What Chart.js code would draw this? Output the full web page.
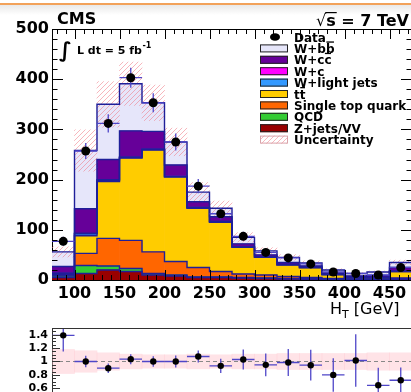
<!DOCTYPE html>
<html lang="en">
<head>
<meta charset="UTF-8">
<title>CMS W+jets H_T</title>
<script src="https://cdn.jsdelivr.net/npm/chart.js@4.4.1/dist/chart.umd.min.js"></script>
<style>
  body { margin: 0; width: 411px; height: 392px; overflow: hidden; background: #fff; position: relative; }
  .topbar { position: absolute; left: 0; top: 3px; width: 411px; height: 10px; border-top: 2px solid #f2a25a; background: linear-gradient(#e9e9e9, #fff); }
  #main { position: absolute; left: 0; top: 0; }
  #ratio { position: absolute; left: 0; top: 320px; }
</style>
</head>
<body>
<div class="topbar"></div>
<canvas id="main" width="420" height="320"></canvas>
<canvas id="ratio" width="420" height="80"></canvas>

<script>
// bins: lower edge of each 25 GeV H_T bin
const htLow = [75, 100, 125, 150, 175, 200, 225, 250, 275, 300, 325, 350, 375, 400, 425, 450];
const binWidth = 25;

const dataCounts = [77, 257, 312, 403, 353, 275, 187, 132, 87, 55, 44, 32, 16, 13, 10, 25];
const dataErr    = [9, 16, 18, 20, 19, 17, 14, 11, 9, 7, 7, 6, 4, 4, 3, 5];

// MC components, stacked bottom -> top
const zjetsVV   = [5, 13, 20, 17, 10, 8, 5, 5, 4, 3, 2, 2, 1, 1, 1, 2];
const qcd       = [3, 16, 8, 6, 3, 2, 1, 1, 1, 1, 1, 0, 0, 0, 0, 0];
const singleTop = [2, 24, 55, 56, 43, 27, 19, 11, 7, 6, 4, 3, 2, 1, 1, 2];
const ttbar     = [1, 35, 113, 164, 203, 168, 118, 98, 53, 35, 23, 20, 8, 3, 3, 13];
const wLight    = [2, 4, 2, 1, 1, 1, 1, 1, 1, 1, 1, 0, 0, 0, 0, 0];
const wC        = [1, 1, 2, 1, 1, 1, 1, 1, 0, 0, 0, 0, 0, 0, 0, 1];
const wCC       = [13, 49, 40, 52, 35, 22, 11, 9, 6, 4, 4, 3, 3, 3, 4, 7];
const wBB       = [29, 116, 110, 94, 57, 46, 19, 17, 13, 8, 10, 6, 6, 5, 7, 10];

// relative MC uncertainty per bin
const mcUncert = [0.18, 0.16, 0.13, 0.11, 0.10, 0.10, 0.11, 0.10, 0.11, 0.11, 0.12, 0.12, 0.12, 0.12, 0.13, 0.13];

// data / MC ratio
const ratioVals = [1.39, 1.0, 0.9, 1.035, 1.0, 1.0, 1.075, 0.935, 1.03, 0.95, 0.985, 0.945, 0.80, 1.015, 0.645, 0.72];
const ratioErr  = [0.24, 0.085, 0.07, 0.075, 0.08, 0.09, 0.09, 0.105, 0.15, 0.17, 0.2, 0.23, 0.25, 0.39, 0.26, 0.19];

const yTicks = [0, 100, 200, 300, 400, 500];
const xTicks = [100, 150, 200, 250, 300, 350, 400, 450];
const ratioTicks = [0.6, 0.8, 1, 1.2, 1.4];

const components = [
    { label: 'Z+jets/VV', values: zjetsVV, color: '#990000' },
    { label: 'QCD', values: qcd, color: '#33cc33' },
    { label: 'Single top quark', values: singleTop, color: '#ff6600' },
    { label: 'tt', bar: 1, values: ttbar, color: '#ffcc00' },
    { label: 'W+light jets', values: wLight, color: '#3399ff' },
    { label: 'W+c', values: wC, color: '#ff00ff' },
    { label: 'W+cc', bar: 1, values: wCC, color: '#660099' },
    { label: 'W+bb', bar: 1, values: wBB, color: '#e6e6fa' }
];

const outline = '#1f1f99';
const errColor = '#4f46c8';
const xMin = 75, xMax = 475;

// cumulative stack
let cum = htLow.map(() => 0);
const layers = components.map(c => {
    const lo = cum.slice();
    cum = cum.map((v, i) => v + c.values[i]);
    return Object.assign({}, c, { lo: lo, hi: cum.slice() });
});
const mcTotal = cum;
const centers = htLow.map(x => x + binWidth / 2);

function makeHatch(ctx) {
    const c = document.createElement('canvas');
    c.width = 5; c.height = 5;
    const g = c.getContext('2d');
    g.strokeStyle = 'rgba(240,120,130,0.6)';
    g.lineWidth = 0.9;
    g.beginPath();
    g.moveTo(0, 5); g.lineTo(5, 0);
    g.moveTo(-2.5, 2.5); g.lineTo(2.5, -2.5);
    g.moveTo(2.5, 7.5); g.lineTo(7.5, 2.5);
    g.stroke();
    return ctx.createPattern(c, 'repeat');
}

const mainCanvas = document.getElementById('main');
const hatch = makeHatch(mainCanvas.getContext('2d'));

// keep the plot frame exactly where layout.padding puts it
function noLabelPadding(s) {
    s.paddingTop = 0;
    s.paddingBottom = 0;
    s.paddingLeft = 0;
    s.paddingRight = 0;
}

const errorBarPlugin = {
    id: 'errorBars',
    beforeDatasetDraw(chart, args) {
        const ds = chart.data.datasets[args.index];
        if (!ds.errY) return;
        const { ctx, chartArea: a, scales: { x, y } } = chart;
        ctx.save();
        ctx.beginPath();
        ctx.rect(a.left, a.top, a.right - a.left, a.bottom - a.top);
        ctx.clip();
        ctx.strokeStyle = errColor;
        ctx.lineWidth = 1.3;
        ds.data.forEach((p, i) => {
            const px = x.getPixelForValue(p.x), py = y.getPixelForValue(p.y);
            ctx.beginPath();
            ctx.moveTo(x.getPixelForValue(p.x - binWidth / 2), py);
            ctx.lineTo(x.getPixelForValue(p.x + binWidth / 2), py);
            ctx.moveTo(px, y.getPixelForValue(p.y + ds.errY[i]));
            ctx.lineTo(px, y.getPixelForValue(p.y - ds.errY[i]));
            ctx.stroke();
        });
        ctx.restore();
    }
};

function overlined(ctx, text, n, x, y) {
    ctx.fillText(text, x, y);
    if (!n) return;
    const w = ctx.measureText(text).width;
    const w0 = ctx.measureText(text.slice(0, text.length - n)).width;
    ctx.fillRect(x + w0 + 0.5, y - 11.5, w - w0 - 1, 1.3);
}

const mainDecor = {
    id: 'mainDecor',
    afterDraw(chart) {
        const { ctx, chartArea: a, scales: { x, y } } = chart;
        ctx.save();
        // frame and inward ticks
        ctx.strokeStyle = '#000';
        ctx.lineWidth = 1;
        ctx.beginPath();
        ctx.moveTo(a.left, a.top + 0.5); ctx.lineTo(a.right, a.top + 0.5);
        ctx.moveTo(a.right - 0.5, a.top); ctx.lineTo(a.right - 0.5, a.bottom);
        for (let v = 0; v <= 500; v += 20) {
            const py = Math.round(y.getPixelForValue(v)) + 0.5;
            const len = v % 100 === 0 ? 11 : 5.5;
            ctx.moveTo(a.left, py); ctx.lineTo(a.left + len, py);
            ctx.moveTo(a.right, py); ctx.lineTo(a.right - len, py);
        }
        for (let v = 80; v < xMax; v += 10) {
            const px = Math.round(x.getPixelForValue(v)) + 0.5;
            const len = v % 50 === 0 ? 10 : 5;
            ctx.moveTo(px, a.bottom); ctx.lineTo(px, a.bottom - len);
            ctx.moveTo(px, a.top); ctx.lineTo(px, a.top + len);
        }
        ctx.stroke();

        // labels
        ctx.fillStyle = '#000';
        ctx.textBaseline = 'alphabetic';
        ctx.textAlign = 'left';
        ctx.font = 'bold 16px "DejaVu Sans"';
        ctx.fillText('CMS', 57, 24);

        ctx.font = 'bold 16px "DejaVu Sans"';
        ctx.textAlign = 'right';
        const tail = 's = 7 TeV';
        ctx.fillText(tail, 409, 26);
        const tw = ctx.measureText(tail).width;
        const sw = ctx.measureText('s').width;
        ctx.font = '16px "DejaVu Sans"';
        ctx.fillText('\u221A', 409 - tw, 26);
        ctx.fillRect(409 - tw - 1, 12, sw + 2, 1.2);

        ctx.textAlign = 'left';
        ctx.font = 'bold 21px "DejaVu Sans"';
        ctx.fillText('\u222B', 59, 57);
        ctx.font = 'bold 11px "DejaVu Sans"';
        ctx.fillText('L dt = 5 fb', 77, 54);
        const lw = ctx.measureText('L dt = 5 fb').width;
        ctx.font = 'bold 8px "DejaVu Sans"';
        ctx.fillText('-1', 77 + lw + 0.5, 48);

        // axis title
        ctx.font = '16px "DejaVu Sans"';
        ctx.fillText('H', 330, 314);
        const hw = ctx.measureText('H').width;
        ctx.font = '11px "DejaVu Sans"';
        ctx.fillText('T', 330 + hw, 318);
        const tw2 = ctx.measureText('T').width;
        ctx.font = '16px "DejaVu Sans"';
        ctx.fillText(' [GeV]', 330 + hw + tw2, 314);

        // legend
        const bx = 260, tx = 294, y0 = 37, dy = 11.4;
        ctx.font = 'bold 12px "DejaVu Sans"';
        ctx.beginPath();
        ctx.ellipse(275, y0, 5, 3.8, 0, 0, Math.PI * 2);
        ctx.fill();
        ctx.fillText('Data', tx, y0 + 4.5);
        const entries = layers.slice().reverse();
        entries.forEach((l, i) => {
            const cy = y0 + (i + 1) * dy;
            ctx.fillStyle = l.color;
            ctx.fillRect(bx, cy - 4, 28, 8);
            ctx.strokeStyle = '#222';
            ctx.lineWidth = 1;
            ctx.strokeRect(bx + 0.5, cy - 3.5, 27, 7);
            ctx.fillStyle = '#000';
            overlined(ctx, l.label, l.bar, tx, cy + 4.5);
        });
        const uy = y0 + (entries.length + 1) * dy;
        ctx.fillStyle = '#fff';
        ctx.fillRect(bx, uy - 4, 28, 8);
        ctx.fillStyle = hatch;
        ctx.fillRect(bx, uy - 4, 28, 8);
        ctx.strokeStyle = '#d9a3aa';
        ctx.strokeRect(bx + 0.5, uy - 3.5, 27, 7);
        ctx.fillStyle = '#000';
        ctx.fillText('Uncertainty', tx, uy + 4.5);
        ctx.restore();
    }
};

const mainDatasets = [
    {
        type: 'scatter',
        label: 'Data',
        data: centers.map((x, i) => ({ x: x, y: dataCounts[i] })),
        errY: dataErr,
        pointRadius: 4.5,
        pointBackgroundColor: '#000',
        pointBorderWidth: 0,
        order: 0
    }
];
layers.forEach(l => {
    mainDatasets.push({
        type: 'line',
        data: htLow.map((x, i) => ({ x: x, y: l.hi[i] })).concat([{ x: xMax, y: l.hi[l.hi.length - 1] }]),
        stepped: 'before',
        borderColor: outline,
        borderWidth: 1.4,
        pointRadius: 0,
        fill: false,
        order: 1
    });
});
mainDatasets.push({
    type: 'bar',
    label: 'Uncertainty',
    data: centers.map((x, i) => ({ x: x, y: [mcTotal[i] * (1 - mcUncert[i]), mcTotal[i] * (1 + mcUncert[i])] })),
    backgroundColor: hatch,
    borderWidth: 0,
    grouped: false,
    barPercentage: 1,
    categoryPercentage: 1,
    order: 2
});
layers.forEach(l => {
    mainDatasets.push({
        type: 'bar',
        label: l.label,
        data: centers.map((x, i) => ({ x: x, y: [l.lo[i], l.hi[i]] })),
        backgroundColor: l.color,
        borderWidth: 0,
        grouped: false,
        barPercentage: 1,
        categoryPercentage: 1,
        order: 3
    });
});

const tickFont = { family: 'DejaVu Sans', size: 16, weight: 'bold' };

new Chart(mainCanvas, {
    type: 'bar',
    data: { datasets: mainDatasets },
    options: {
        responsive: false,
        animation: false,
        devicePixelRatio: 1,
        events: [],
        layout: { padding: { top: 29, right: 8, left: 0, bottom: 0 } },
        plugins: { legend: { display: false }, tooltip: { enabled: false } },
        scales: {
            x: {
                type: 'linear', min: xMin, max: xMax, offset: false,
                afterBuildTicks: s => { s.ticks = xTicks.map(v => ({ value: v })); },
                afterFit: s => { s.height = 40; noLabelPadding(s); },
                grid: { display: false, drawTicks: false },
                border: { display: true, color: '#000', width: 1 },
                ticks: { font: tickFont, color: '#000', padding: 4, maxRotation: 0, autoSkip: false }
            },
            y: {
                min: 0, max: 500,
                afterBuildTicks: s => { s.ticks = yTicks.map(v => ({ value: v })); },
                afterFit: s => { s.width = 52; noLabelPadding(s); },
                grid: { display: false, drawTicks: false },
                border: { display: true, color: '#000', width: 1 },
                ticks: { font: tickFont, color: '#000', padding: 3, autoSkip: false }
            }
        }
    },
    plugins: [errorBarPlugin, mainDecor]
});

// ratio panel
const ratioDecor = {
    id: 'ratioDecor',
    afterDraw(chart) {
        const { ctx, chartArea: a, scales: { y } } = chart;
        ctx.save();
        ctx.strokeStyle = '#333';
        ctx.lineWidth = 1;
        ctx.beginPath();
        ctx.moveTo(a.left, a.top + 0.5); ctx.lineTo(a.right, a.top + 0.5);
        for (let v = 0.55; v < 1.5; v += 0.05) {
            const py = Math.round(y.getPixelForValue(v)) + 0.5;
            const major = ratioTicks.some(t => Math.abs(t - v) < 0.001);
            ctx.moveTo(a.left, py); ctx.lineTo(a.left + (major ? 8 : 4), py);
        }
        ctx.stroke();
        ctx.restore();
    }
};

new Chart(document.getElementById('ratio'), {
    type: 'bar',
    data: {
        datasets: [
            {
                type: 'scatter',
                data: centers.map((x, i) => ({ x: x, y: ratioVals[i] })),
                errY: ratioErr,
                pointRadius: 3.2,
                pointBackgroundColor: '#000',
                pointBorderWidth: 0,
                order: 0
            },
            {
                type: 'line',
                data: [{ x: xMin, y: 1 }, { x: xMax, y: 1 }],
                borderColor: '#888',
                borderDash: [4, 3],
                borderWidth: 1,
                pointRadius: 0,
                order: 1
            },
            {
                type: 'bar',
                data: centers.map((x, i) => ({ x: x, y: [1 - mcUncert[i], 1 + mcUncert[i]] })),
                backgroundColor: 'rgba(255,185,195,0.4)',
                borderWidth: 0,
                grouped: false,
                barPercentage: 1,
                categoryPercentage: 1,
                order: 2
            }
        ]
    },
    options: {
        responsive: false,
        animation: false,
        devicePixelRatio: 1,
        events: [],
        layout: { padding: { top: 8, right: 8, left: 0, bottom: 5 } },
        plugins: { legend: { display: false }, tooltip: { enabled: false } },
        scales: {
            x: { type: 'linear', min: xMin, max: xMax, offset: false, display: false },
            y: {
                min: 0.5, max: 1.5,
                afterBuildTicks: s => { s.ticks = ratioTicks.map(v => ({ value: v })); },
                afterFit: s => { s.width = 52; noLabelPadding(s); },
                grid: { display: false, drawTicks: false },
                border: { display: true, color: '#333', width: 1 },
                ticks: { font: { family: 'DejaVu Sans', size: 11, weight: 'bold' }, color: '#000', padding: 4, autoSkip: false, callback: v => String(v) }
            }
        }
    },
    plugins: [errorBarPlugin, ratioDecor]
});
</script>
</body>
</html>
